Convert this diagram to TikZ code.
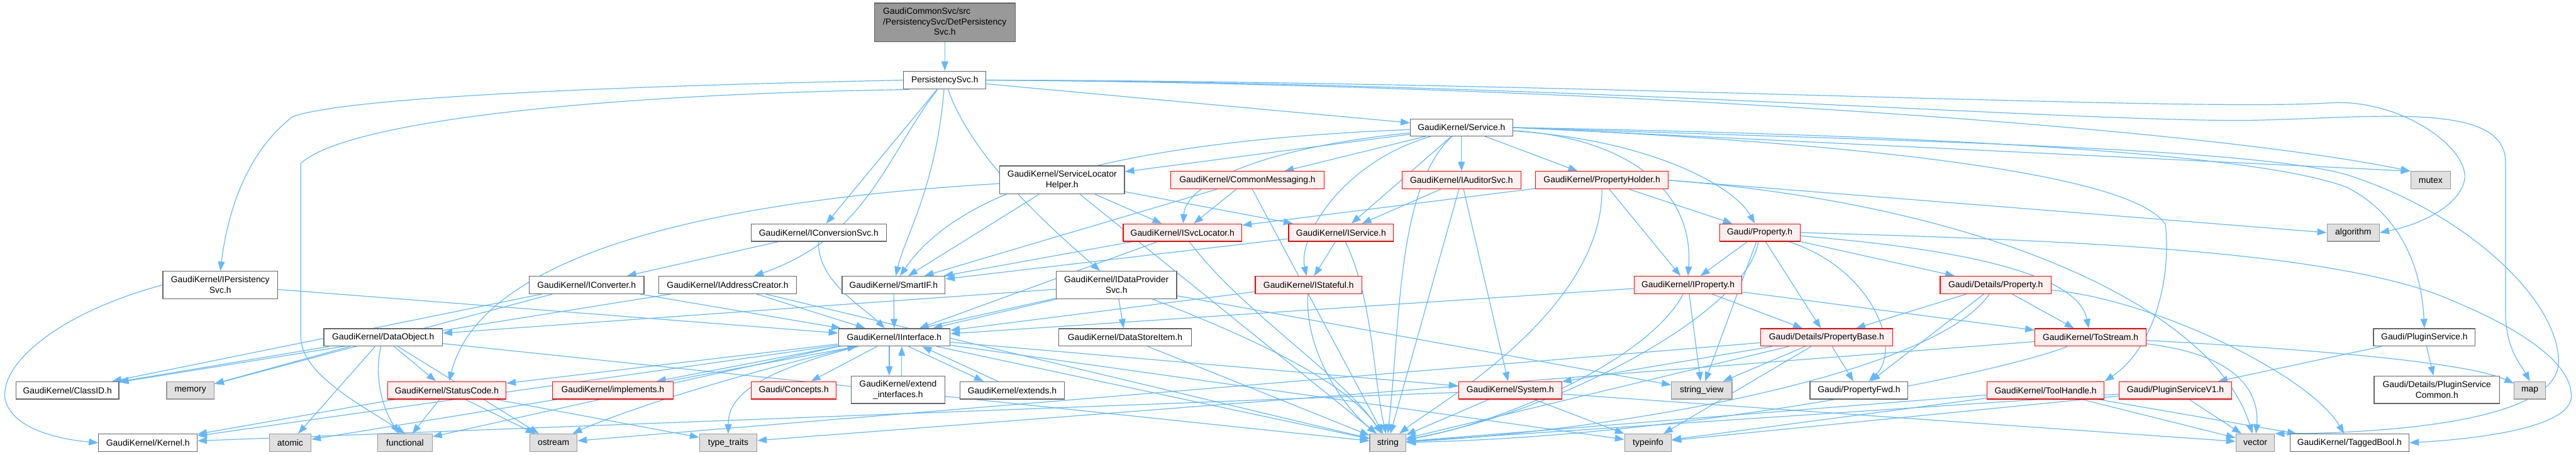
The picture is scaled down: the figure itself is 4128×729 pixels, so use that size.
\documentclass[tikz,border=0pt]{standalone}
\usepackage{fontspec}
\setmainfont{Liberation Sans}
\usetikzlibrary{arrows.meta}
\definecolor{edgec}{HTML}{63B8FF}
\definecolor{bnorm}{HTML}{666666}
\definecolor{bred}{HTML}{FF0000}
\definecolor{fred}{HTML}{FFF0F0}
\definecolor{fsys}{HTML}{E0E0E0}
\definecolor{bsys}{HTML}{999999}
\definecolor{froot}{HTML}{999999}
\pgfdeclarelayer{bg}
\pgfsetlayers{bg,main}
\begin{document}
\begin{tikzpicture}[x=1pt,y=-1pt,
  base/.style={rectangle, inner sep=0pt, font=\fontsize{14}{17}\selectfont, line width=1.2pt, align=center, minimum height=28pt},
  wn/.style={base, draw=bnorm, fill=white},
  rn/.style={base, draw=bred, fill=fred},
  sn/.style={base, draw=bsys, fill=fsys},
  rootn/.style={base, draw=bnorm, fill=froot},
  lnk/.style={draw=edgec, line width=1.2pt, -{Triangle[length=15pt,width=11pt]}}]
\useasboundingbox (0,0) rectangle (4128,729);
% row A/B/C
\node[rootn, minimum width=226pt, minimum height=62pt] (root) at (1514,36) {\begin{tabular}{@{}l@{}}GaudiCommonSvc/src\\/PersistencySvc/DetPersistency\\\multicolumn{1}{@{}c@{}}{Svc.h}\end{tabular}};
\node[wn, minimum width=132pt, minimum height=29pt] (psvc) at (1514,128.5) {PersistencySvc.h};
\node[wn, minimum width=164pt, minimum height=27pt] (service) at (2342,204.5) {GaudiKernel/Service.h};
% row D
\node[wn, minimum width=200pt, minimum height=45pt] (slh) at (1702,288.5) {GaudiKernel/ServiceLocator\\Helper.h};
\node[rn, minimum width=246pt] (cmsg) at (1999,289) {GaudiKernel/CommonMessaging.h};
\node[rn, minimum width=191pt] (iaud) at (2342,289) {GaudiKernel/IAuditorSvc.h};
\node[rn, minimum width=213pt] (pholder) at (2567,289) {GaudiKernel/PropertyHolder.h};
\node[sn, minimum width=64pt] (mutex) at (3895,289) {mutex};
% row E
\node[wn, minimum width=217pt] (iconv) at (1312,373) {GaudiKernel/IConversionSvc.h};
\node[rn, minimum width=190pt] (isvcloc) at (1895,373) {GaudiKernel/ISvcLocator.h};
\node[rn, minimum width=168pt] (iservice) at (2149,373) {GaudiKernel/IService.h};
\node[rn, minimum width=129pt] (prop) at (2820,373) {Gaudi/Property.h};
\node[sn, minimum width=84pt] (algorithm) at (3771,373) {algorithm};
% row F
\node[wn, minimum width=184pt, minimum height=44pt] (ipsvc) at (353,457) {GaudiKernel/IPersistency\\Svc.h};
\node[wn, minimum width=184pt] (iconverter) at (940,457) {GaudiKernel/IConverter.h};
\node[wn, minimum width=220pt] (iaddr) at (1166,457) {GaudiKernel/IAddressCreator.h};
\node[wn, minimum width=165pt] (smartif) at (1432,457) {GaudiKernel/SmartIF.h};
\node[wn, minimum width=193pt, minimum height=44pt] (idp) at (1789,457) {GaudiKernel/IDataProvider\\Svc.h};
\node[rn, minimum width=171pt] (istateful) at (2097,457) {GaudiKernel/IStateful.h};
\node[rn, minimum width=173pt] (iprop) at (2705,457) {GaudiKernel/IProperty.h};
\node[rn, minimum width=178pt] (dprop) at (3198,457) {Gaudi/Details/Property.h};
% row G
\node[wn, minimum width=190pt] (dataobj) at (614,541) {GaudiKernel/DataObject.h};
\node[wn, minimum width=179pt] (iiface) at (1433,541) {GaudiKernel/IInterface.h};
\node[wn, minimum width=212pt] (dsi) at (1803,541) {GaudiKernel/DataStoreItem.h};
\node[rn, minimum width=212pt] (pbase) at (2927,541) {Gaudi/Details/PropertyBase.h};
\node[rn, minimum width=178pt] (tostream) at (3350,541) {GaudiKernel/ToStream.h};
\node[wn, minimum width=163pt] (plugsvc) at (3885,541) {Gaudi/PluginService.h};
% row H
\node[wn, minimum width=165pt] (classid) at (108,626) {GaudiKernel/ClassID.h};
\node[sn, minimum width=76pt] (memory) at (305,626) {memory};
\node[rn, minimum width=190pt] (status) at (716,626) {GaudiKernel/StatusCode.h};
\node[rn, minimum width=194pt] (implements) at (982,626) {GaudiKernel/implements.h};
\node[rn, minimum width=136pt] (concepts) at (1272,626) {Gaudi/Concepts.h};
\node[wn, minimum width=150pt, minimum height=44pt] (extif) at (1439,625) {GaudiKernel/extend\\\_interfaces.h};
\node[wn, minimum width=168pt] (extends) at (1622,626) {GaudiKernel/extends.h};
\node[rn, minimum width=165pt] (system) at (2420,626) {GaudiKernel/System.h};
\node[sn, minimum width=97pt] (strview) at (2727,626) {string\_view};
\node[wn, minimum width=157pt] (pfwd) at (2979,626) {Gaudi/PropertyFwd.h};
\node[rn, minimum width=188pt] (toolh) at (3278,626) {GaudiKernel/ToolHandle.h};
\node[rn, minimum width=181pt] (plugv1) at (3486,626) {Gaudi/PluginServiceV1.h};
\node[wn, minimum width=201pt, minimum height=44pt] (plugcommon) at (3905,625) {Gaudi/Details/PluginService\\Common.h};
\node[sn, minimum width=50pt] (map) at (4054,626) {map};
% row I
\node[wn, minimum width=158pt] (kernel) at (237,710) {GaudiKernel/Kernel.h};
\node[sn, minimum width=67pt] (atomic) at (465,710) {atomic};
\node[sn, minimum width=87pt] (functional) at (649,710) {functional};
\node[sn, minimum width=76pt] (ostream) at (887,710) {ostream};
\node[sn, minimum width=92pt] (typetraits) at (1167,710) {type\_traits};
\node[sn, minimum width=58pt] (string) at (2224,710) {string};
\node[sn, minimum width=75pt] (typeinfo) at (2641,710) {typeinfo};
\node[sn, minimum width=62pt] (vector) at (3614,710) {vector};
\node[wn, minimum width=191pt] (taggedbool) at (3765,710) {GaudiKernel/TaggedBool.h};

\begin{pgfonlayer}{bg}
\draw[lnk] (root) -- (psvc);
% PersistencySvc
\draw[lnk] (psvc.west) .. controls (1000,138) and (560,155) .. (469,187) .. controls (400,240) and (366,330) .. (ipsvc.north);
\draw[lnk] (psvc.195) .. controls (1000,150) and (560,190) .. (482,262) -- (482,540) .. controls (482,600) and (580,650) .. (functional.north);
\draw[lnk] (psvc) -- (iconv);
\draw[lnk] (psvc) .. controls (1420,250) and (1390,380) .. (iaddr);
\draw[lnk] (psvc) .. controls (1500,300) and (1450,380) .. (smartif);
\draw[lnk] (psvc) .. controls (1560,260) and (1700,380) .. (idp);
\draw[lnk] (psvc) -- (service);
\draw[lnk] (psvc.east) .. controls (2500,135) and (3500,200) .. (mutex.north west);
\draw[lnk] (psvc.east) .. controls (2500,130) and (3500,180) .. (3734,165) .. controls (3850,158) and (3960,240) .. (3949,290) .. controls (3940,330) and (3880,360) .. (algorithm.east);
\draw[lnk] (psvc.east) .. controls (2500,132) and (3300,195) .. (3600,193) .. controls (3800,190) and (4015,160) .. (4015,260) -- (4015,500) .. controls (4015,560) and (4040,585) .. (map.north);
% Service
\draw[lnk] (service) -- (slh);
\draw[lnk] (service) -- (cmsg);
\draw[lnk] (service) -- (iaud);
\draw[lnk] (service) -- (pholder);
\draw[lnk] (service) .. controls (2000,240) and (1900,300) .. (isvcloc);
\draw[lnk] (service) -- (iservice);
\draw[lnk] (service) .. controls (1700,230) and (1520,330) .. (smartif);
\draw[lnk] (service) .. controls (2150,260) and (2080,380) .. (istateful);
\draw[lnk] (service) .. controls (2650,225) and (2780,300) .. (prop);
\draw[lnk] (service) .. controls (2600,220) and (2715,300) .. (iprop.north);
\draw[lnk] (service) .. controls (2240,300) and (2245,500) .. (string.north);
\draw[lnk] (service.east) -- (mutex.north west);
\draw[lnk] (service.east) .. controls (3000,230) and (3420,280) .. (3470,360) .. controls (3480,450) and (3450,560) .. (toolh.north east);
\draw[lnk] (service.east) .. controls (3000,215) and (3600,240) .. (3760,300) .. controls (3840,340) and (3880,420) .. (plugsvc.north);
\draw[lnk] (service.east) .. controls (3000,225) and (3600,235) .. (3760,280) .. controls (3950,340) and (4100,480) .. (4100,580) .. controls (4100,680) and (3800,695) .. (vector.north east);
% ServiceLocatorHelper
\draw[lnk] (slh) -- (isvcloc);
\draw[lnk] (slh) -- (iservice);
\draw[lnk] (slh) -- (smartif);
\draw[lnk] (slh) .. controls (1000,330) and (760,450) .. (status);
\draw[lnk] (slh) -- (string);
% CommonMessaging
\draw[lnk] (cmsg) -- (isvcloc);
\draw[lnk] (cmsg) -- (smartif);
\draw[lnk] (cmsg) -- (string);
% IAuditorSvc
\draw[lnk] (iaud) -- (iservice);
\draw[lnk] (iaud) -- (string);
\draw[lnk] (iaud) -- (system);
% PropertyHolder
\draw[lnk] (pholder) -- (isvcloc);
\draw[lnk] (pholder) -- (iprop);
\draw[lnk] (pholder) -- (prop);
\draw[lnk] (pholder) .. controls (2568,500) and (2300,650) .. (string);
\draw[lnk] (pholder.east) -- (algorithm.west);
\draw[lnk] (pholder.east) .. controls (3200,330) and (3550,500) .. (vector);
% ISvcLocator / IService
\draw[lnk] (isvcloc) -- (smartif);
\draw[lnk] (isvcloc) -- (iiface);
\draw[lnk] (isvcloc) .. controls (1990,500) and (2150,600) .. (string);
\draw[lnk] (iservice) -- (istateful);
\draw[lnk] (iservice) -- (smartif);
\draw[lnk] (iservice) .. controls (2200,480) and (2200,600) .. (string);
% IConversionSvc etc.
\draw[lnk] (iconv) -- (iconverter);
\draw[lnk] (iconv) .. controls (1310,450) and (1380,490) .. (iiface);
\draw[lnk] (iconverter) -- (classid);
\draw[lnk] (iconverter) -- (iiface);
\draw[lnk] (iconverter) -- (memory);
\draw[lnk] (iaddr) -- (classid);
\draw[lnk] (iaddr) -- (iiface);
\draw[lnk] (iaddr) -- (string);
\draw[lnk] (ipsvc.west) .. controls (100,500) and (0,580) .. (8,640) .. controls (20,690) and (100,705) .. (kernel.west);
\draw[lnk] (ipsvc) -- (iiface);
% IDataProviderSvc
\draw[lnk] (idp) -- (dataobj);
\draw[lnk] (idp) -- (iiface);
\draw[lnk] (idp) -- (dsi);
\draw[lnk] (idp) .. controls (1950,520) and (2150,600) .. (string);
\draw[lnk] (idp) -- (functional);
\draw[lnk] (idp) -- (strview);
\draw[lnk] (dsi) -- (string);
% DataObject
\draw[lnk] (dataobj) -- (classid);
\draw[lnk] (dataobj) -- (memory);
\draw[lnk] (dataobj) -- (status);
\draw[lnk] (dataobj) -- (atomic);
\draw[lnk] (dataobj) .. controls (600,600) and (610,650) .. (functional);
\draw[lnk] (dataobj) -- (ostream);
\draw[lnk] (dataobj) -- (string);
% SmartIF / IInterface
\draw[lnk] (smartif) -- (iiface);
\draw[lnk] (iiface) -- (status);
\draw[lnk] (iiface) -- (kernel);
\draw[lnk] (iiface) .. controls (1100,620) and (950,680) .. (ostream);
\draw[lnk] (iiface) .. controls (1200,600) and (1167,640) .. (typetraits);
\draw[lnk] (iiface) -- (string);
\draw[lnk] (iiface) -- (typeinfo);
\draw[lnk] (iiface) -- (system);
\draw[lnk] (iiface) -- (concepts);
\draw[lnk] ([xshift=-8pt]iiface.south) -- ([xshift=-14pt]extif.north);
\draw[lnk] ([xshift=6pt]extif.north) -- ([xshift=12pt]iiface.south);
\draw[lnk] ([xshift=23pt]iiface.south) -- ([xshift=-46pt]extends.north);
\draw[lnk] ([xshift=-23pt]extends.north) -- ([xshift=45pt]iiface.south);
\draw[lnk] (iiface.south west) -- ([xshift=70pt]implements.north);
\draw[lnk] ([xshift=87pt]implements.north) -- ([xshift=-60pt]iiface.south);
\draw[lnk] (implements) -- (atomic);
% StatusCode
\draw[lnk] (status) -- (kernel);
\draw[lnk] (status) -- (functional);
\draw[lnk] (status) -- (ostream);
\draw[lnk] (status) -- (typetraits);
% System
\draw[lnk] (system) -- (kernel);
\draw[lnk] (system) -- (string);
\draw[lnk] (system) -- (typeinfo);
\draw[lnk] (system) -- (vector);
% IStateful / IProperty
\draw[lnk] (istateful) -- (iiface);
\draw[lnk] (istateful) .. controls (2090,560) and (2150,650) .. (string);
\draw[lnk] (iprop) -- (iiface);
\draw[lnk] (iprop) .. controls (2640,580) and (2400,680) .. (string);
\draw[lnk] (iprop) -- (strview);
\draw[lnk] (iprop) -- (pbase);
\draw[lnk] (iprop) -- (tostream);
% Gaudi/Property.h
\draw[lnk] (prop) -- (iprop);
\draw[lnk] (prop) -- (pbase);
\draw[lnk] (prop) .. controls (3000,430) and (3050,560) .. (pfwd);
\draw[lnk] (prop) -- (dprop);
\draw[lnk] (prop) .. controls (3150,400) and (3330,440) .. (tostream);
\draw[lnk] (prop) .. controls (2800,500) and (2500,660) .. (string);
\draw[lnk] (prop) -- (strview);
\draw[lnk] (prop.east) .. controls (3300,385) and (3700,400) .. (3900,470) .. controls (4080,540) and (4125,600) .. (4120,640) .. controls (4110,690) and (3950,705) .. (taggedbool.east);
% Details/Property
\draw[lnk] (dprop) -- (pbase);
\draw[lnk] (dprop) -- (pfwd);
\draw[lnk] (dprop) -- (tostream);
\draw[lnk] (dprop) .. controls (3100,600) and (2600,690) .. (string);
\draw[lnk] (dprop) .. controls (3450,480) and (3700,600) .. (taggedbool);
% PropertyBase
\draw[lnk] (pbase) -- (strview);
\draw[lnk] (pbase) -- (pfwd);
\draw[lnk] (pbase) -- (string);
\draw[lnk] (pbase) -- (typeinfo);
\draw[lnk] (pbase) -- (system);
\draw[lnk] (pbase) -- (ostream);
% ToStream
\draw[lnk] (tostream) .. controls (3200,600) and (2700,700) .. (string);
\draw[lnk] (tostream) .. controls (3600,570) and (3620,640) .. (vector);
\draw[lnk] (tostream) .. controls (3700,560) and (3950,580) .. (map);
\draw[lnk] (tostream) -- (typetraits);
% ToolHandle
\draw[lnk] (toolh) -- (string);
\draw[lnk] (toolh) -- (vector);
\draw[lnk] (toolh) -- (typeinfo);
\draw[lnk] (toolh) -- (taggedbool);
% PluginService
\draw[lnk] (plugsvc) -- (plugv1);
\draw[lnk] (plugsvc) -- (plugcommon);
\draw[lnk] (plugv1) -- (string);
\draw[lnk] (plugv1) -- (typeinfo);
\draw[lnk] (plugv1) -- (vector);
\end{pgfonlayer}
\end{tikzpicture}
\end{document}
